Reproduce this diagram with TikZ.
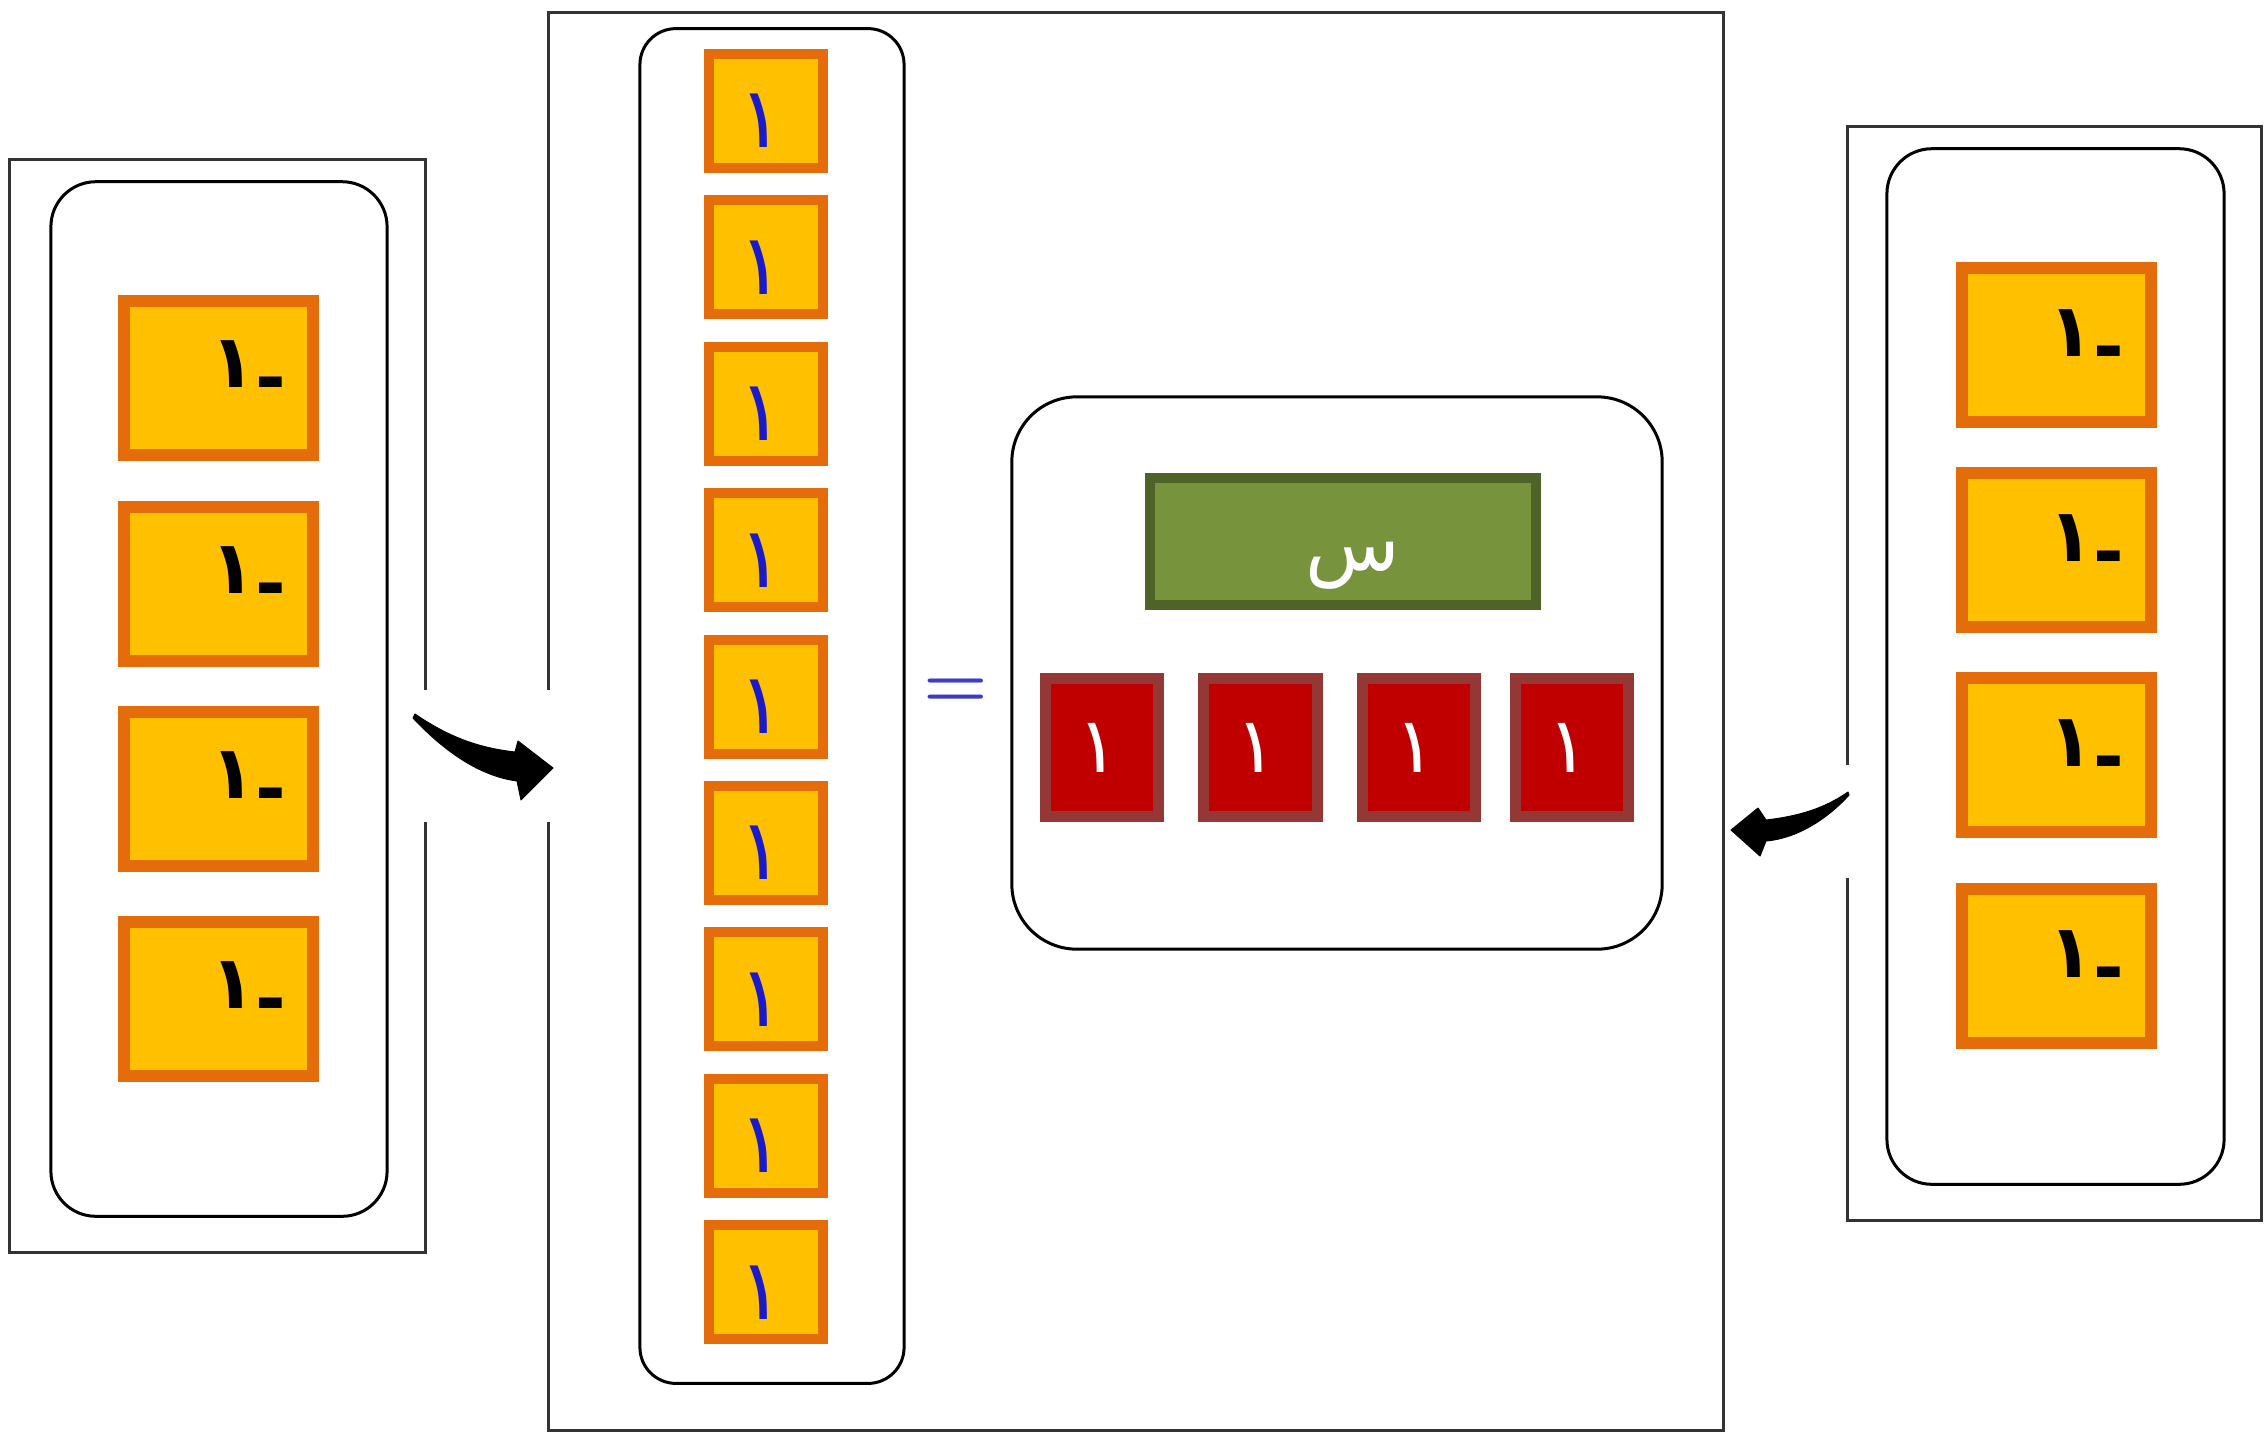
\documentclass[tikz,border=0pt]{standalone}
\usepackage{fontspec}
\newfontfamily\arabicfont[Script=Arabic]{DejaVu Sans}
\TeXXeTstate=1
\definecolor{tileY}{HTML}{FFC000}
\definecolor{tileO}{HTML}{E46C0A}
\definecolor{grnF}{HTML}{77933C}
\definecolor{grnD}{HTML}{4F6228}
\definecolor{redF}{HTML}{C00000}
\definecolor{redD}{HTML}{953735}
\definecolor{eqB}{HTML}{3C3CC8}
\definecolor{digB}{HTML}{1A1ACC}
\begin{document}
\begin{tikzpicture}[x=0.01cm,y=-0.01cm,
  frame/.style={draw=black!80, line width=0.03cm, inner sep=0, outer sep=0},
  rbox/.style={draw=black, line width=0.03cm, rounded corners=#1, inner sep=0, outer sep=0},
  bigtile/.style={fill=tileY, draw=tileO, line width=0.12cm, minimum width=1.89cm, minimum height=1.53cm, inner sep=0, outer sep=0},
  smalltile/.style={fill=tileY, draw=tileO, line width=0.10cm, minimum width=1.14cm, minimum height=1.14cm, inner sep=0, outer sep=0},
  redtile/.style={fill=redF, draw=redD, line width=0.11cm, minimum width=1.13cm, minimum height=1.38cm, inner sep=0, outer sep=0},
  greentile/.style={fill=grnF, draw=grnD, line width=0.10cm, minimum width=3.86cm, minimum height=1.27cm, inner sep=0, outer sep=0},
  negtxt/.style={inner sep=0, font=\arabicfont\bfseries\fontsize{21pt}{21pt}\selectfont, text=black},
  bluetxt/.style={inner sep=0, font=\arabicfont\fontsize{24pt}{24pt}\selectfont, text=digB},
  whitetxt/.style={inner sep=0, font=\arabicfont\fontsize{22pt}{22pt}\selectfont, text=white},
  brush/.style={fill=black, draw=black, line width=0.01cm, line join=round}
]
\useasboundingbox (0,0) rectangle (2264,1433);
\fill[white] (0,0) rectangle (2264,1433);

% outer frames
\node[frame, minimum width=4.15cm, minimum height=10.92cm] (LF) at (217.5,706) {};
\node[frame, minimum width=11.74cm, minimum height=14.17cm] (MF) at (1136,721.5) {};
\node[frame, minimum width=4.13cm, minimum height=10.93cm] (RF) at (2054.5,673.5) {};

% rounded boxes
\node[rbox=0.45cm, minimum width=3.36cm, minimum height=10.34cm] (LB) at (219,699) {};
\node[rbox=0.36cm, minimum width=2.64cm, minimum height=13.54cm] (MB) at (772,706) {};
\node[rbox=0.65cm, minimum width=6.50cm, minimum height=5.52cm] (CB) at (1337,673) {};
\node[rbox=0.45cm, minimum width=3.37cm, minimum height=10.35cm] (RB) at (2055.5,666.5) {};

% left tiles
\foreach \i/\y in {1/378, 2/584, 3/789, 4/999}{
  \node[bigtile] (L\i) at (218.5,\y) {};
  \node[negtxt] (L\i t) at ([xshift=0.3cm, yshift=0.06cm]L\i.center) {\beginR\raisebox{-0.22em}{-}١\endR};
}
% right tiles
\foreach \i/\y in {1/345, 2/550, 3/755, 4/966}{
  \node[bigtile] (R\i) at (2056.5,\y) {};
  \node[negtxt] (R\i t) at ([xshift=0.3cm, yshift=0.04cm]R\i.center) {\beginR\raisebox{-0.22em}{-}١\endR};
}
% middle column tiles
\foreach \i in {0,...,8}{
  \node[smalltile] (M\i) at (766,{111+146.4*\i}) {};
  \node[bluetxt] (M\i t) at ([xshift=-0.05cm, yshift=-0.1cm]M\i.center) {١};
}

% equals sign
\node[inner sep=0, text=eqB, font=\bfseries\fontsize{21pt}{21pt}\selectfont] (EQ) at (956,693) {=};

% green box
\node[greentile] (G) at (1343,541.5) {};
\node[whitetxt] (Gt) at ([xshift=0.1cm, yshift=-0.24cm]G.center) {س};

% red tiles
\foreach \i/\x in {1/1102, 2/1260.5, 3/1419, 4/1572}{
  \node[redtile] (T\i) at (\x,747.5) {};
  \node[whitetxt] (T\i t) at ([xshift=-0.04cm]T\i.center) {١};
}

% left arrow (brush stroke)
\fill[white] (411,690) rectangle (557,822);
\coordinate (la0) at (415,714);
\coordinate (la1) at (553,768);
\path[brush] (la0) .. controls (450,738) and (480,748) .. (515,752)
  -- (518,741) -- (la1) -- (521,800) -- (517,781)
  .. controls (480,776) and (445,752) .. (413,718) -- cycle;

% right arrow (brush stroke)
\fill[white] (1738,765) rectangle (1856,878);
\coordinate (ra0) at (1848,792);
\coordinate (ra1) at (1731,830);
\path[brush] (ra0) .. controls (1825,808) and (1800,816) .. (1766,820)
  -- (1758,808) -- (ra1) -- (1760,856) -- (1766,841)
  .. controls (1800,838) and (1830,816) .. (1849,795) -- cycle;
\end{tikzpicture}
\end{document}
